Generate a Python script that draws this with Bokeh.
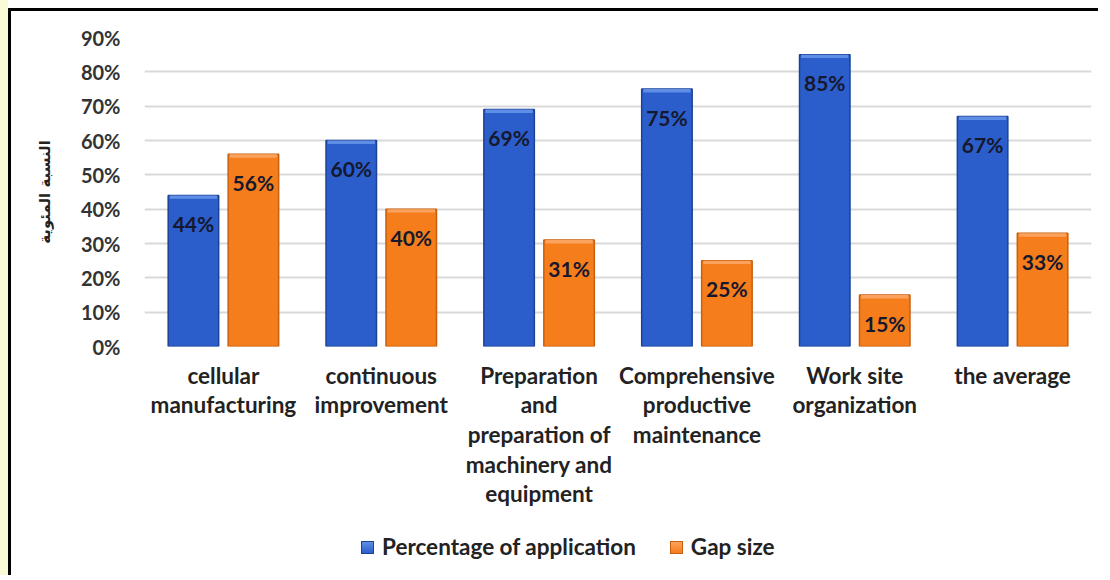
from bokeh.plotting import figure
from bokeh.layouts import column
from bokeh.core.properties import value
from bokeh.models import (FactorRange, FixedTicker, ColumnDataSource, LabelSet, Div)
from bokeh.transform import dodge
from bokeh.embed import file_html
from bokeh.resources import INLINE

# ---- data -------------------------------------------------------------
categories = ["cellular\nmanufacturing", "continuous\nimprovement",
              "Preparation\nand\npreparation of\nmachinery and\nequipment",
              "Comprehensive\nproductive\nmaintenance",
              "Work site\norganization", "the average"]
application = [44, 60, 69, 75, 85, 67]
gap_size = [56, 40, 31, 25, 15, 33]
series_names = ["Percentage of application", "Gap size"]
y_ticks = [0, 10, 20, 30, 40, 50, 60, 70, 80, 90]
y_tick_labels = ["0%", "10%", "20%", "30%", "40%", "50%", "60%", "70%", "80%", "90%"]
y_title = "النسبة المئوية"

FONT = "Lato"
BLUE, BLUE_EDGE, BLUE_LIGHT = "#2b5ecb", "#1c4296", "#5f8ee6"
ORANGE, ORANGE_EDGE, ORANGE_LIGHT = "#f57d1c", "#c85f0d", "#fba35e"

src = ColumnDataSource(dict(
    cat=categories,
    app=application,
    gap=gap_size,
    app_top=[v - 1.0 for v in application],
    gap_top=[v - 1.0 for v in gap_size],
    app_txt=[f"{v}%" for v in application],
    gap_txt=[f"{v}%" for v in gap_size],
))

p = figure(frame_width=944, frame_height=306,
           x_range=FactorRange(*categories, range_padding=0),
           y_range=(0, 90), output_backend="svg", toolbar_location=None,
           min_border_left=133, min_border_right=10, min_border_top=26,
           min_border_bottom=232, background_fill_color="white",
           border_fill_color="white", outline_line_color=None)
p.styles = {"margin-left": "8px", "margin-top": "8px",
            "border-left": "3px solid #000", "border-top": "3px solid #000"}

OFF, W = 0.19, 0.32
xa = dodge("cat", -OFF, range=p.x_range)
xb = dodge("cat", OFF, range=p.x_range)

# bars: darker rim, body, lighter bevel on top
p.vbar(x=xa, top="app", width=W, source=src, fill_color=BLUE,
       line_color=BLUE_EDGE, line_width=1.5)
p.vbar(x=xa, bottom="app_top", top="app", width=W - 0.02, source=src,
       fill_color=BLUE_LIGHT, line_color=None)
p.vbar(x=xb, top="gap", width=W, source=src, fill_color=ORANGE,
       line_color=ORANGE_EDGE, line_width=1.5)
p.vbar(x=xb, bottom="gap_top", top="gap", width=W - 0.02, source=src,
       fill_color=ORANGE_LIGHT, line_color=None)

# value labels inside the bar tops
for xx, col in ((-OFF, "app"), (OFF, "gap")):
    p.add_layout(LabelSet(x=dodge("cat", xx, range=p.x_range), y=col,
                          text=col + "_txt", source=src, y_offset=-28,
                          text_align="center", text_baseline="middle",
                          text_font=value(FONT), text_font_style="bold",
                          text_font_size="21px", text_color="#16182e"))

# axes
p.yaxis.ticker = FixedTicker(ticks=y_ticks)
p.yaxis.major_label_overrides = dict(zip(y_ticks, y_tick_labels))
p.yaxis.axis_line_color = None
p.yaxis.major_tick_line_color = None
p.yaxis.minor_tick_line_color = None
p.yaxis.major_label_text_font = FONT
p.yaxis.major_label_text_font_style = "bold"
p.yaxis.major_label_text_font_size = "20px"
p.yaxis.major_label_text_color = "#333333"
p.yaxis.major_label_standoff = 18
p.yaxis.axis_label = y_title
p.yaxis.axis_label_text_font = "DejaVu Sans"
p.yaxis.axis_label_text_font_style = "bold"
p.yaxis.axis_label_text_font_size = "15px"
p.yaxis.axis_label_text_color = "#222222"
p.yaxis.axis_label_standoff = 24

p.xaxis.axis_line_color = None
p.xaxis.major_tick_line_color = None
p.xaxis.minor_tick_line_color = None
p.xaxis.major_label_text_font = FONT
p.xaxis.major_label_text_font_style = "bold"
p.xaxis.major_label_text_font_size = "22.5px"
p.xaxis.major_label_text_color = "#222222"
p.xaxis.major_label_text_line_height = 1.1
p.xaxis.major_label_standoff = 9

p.xgrid.grid_line_color = None
p.ygrid.grid_line_color = "#d9d9d9"
p.ygrid.grid_line_width = 2

# series key under the category labels
def swatch(light, fill, edge):
    return (f'<span style="display:inline-block;width:13px;height:13px;'
            f'background:linear-gradient({light},{fill});border:1px solid {edge};'
            f'vertical-align:middle;margin-right:8px;margin-top:-3px"></span>')

key_html = (
    f'<div style="font-family:{FONT};font-weight:bold;font-size:22.5px;color:#222222;'
    f'white-space:nowrap;line-height:28px">'
    f'{swatch(BLUE_LIGHT, BLUE, BLUE_EDGE)}{series_names[0]}'
    f'<span style="display:inline-block;width:34px"></span>'
    f'{swatch(ORANGE_LIGHT, ORANGE, ORANGE_EDGE)}{series_names[1]}</div>'
)
key = Div(text=key_html, width=440, height=28,
          styles={"position": "absolute", "left": "356px", "top": "528px"})

root = column(p, key, styles={"background": "linear-gradient(90deg, #f8fbd6 0px, #f8fbd6 8px, #ffffff 8px)"})

open("out.html", "w").write(file_html(root, INLINE))
